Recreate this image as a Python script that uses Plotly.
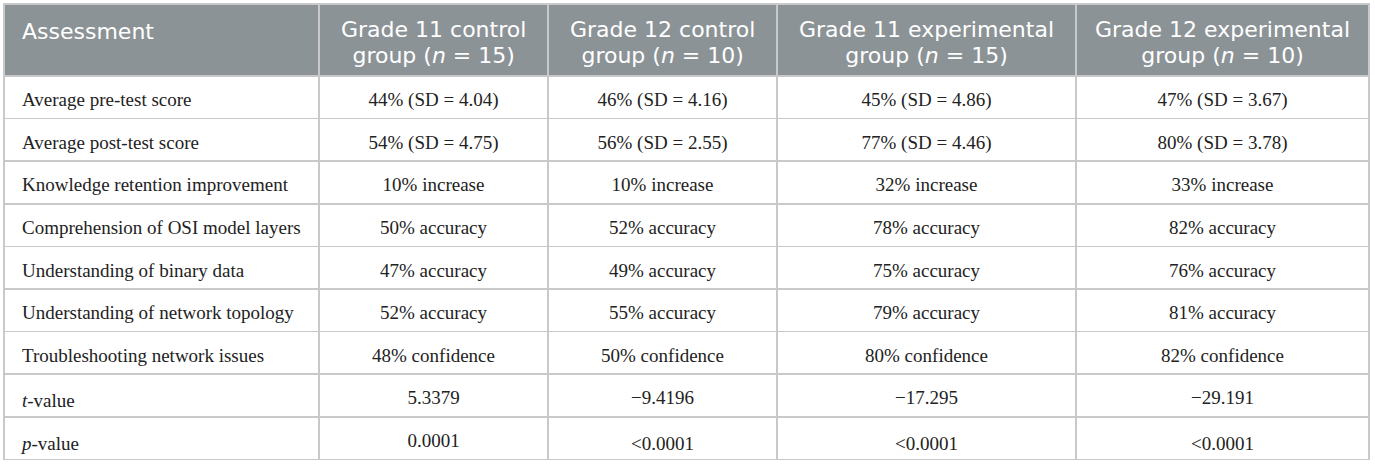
import plotly.graph_objects as go

header_line1 = [
    "Assessment",
    "Grade 11 control",
    "Grade 12 control",
    "Grade 11 experimental",
    "Grade 12 experimental",
]
header_line2 = [
    "",
    "group (<i>n</i> = 15)",
    "group (<i>n</i> = 10)",
    "group (<i>n</i> = 15)",
    "group (<i>n</i> = 10)",
]

assessments = [
    "Average pre-test score",
    "Average post-test score",
    "Knowledge retention improvement",
    "Comprehension of OSI model layers",
    "Understanding of binary data",
    "Understanding of network topology",
    "Troubleshooting network issues",
    "<i>t</i>-value",
    "<i>p</i>-value",
]

grade11_control = [
    "44% (SD = 4.04)", "54% (SD = 4.75)", "10% increase", "50% accuracy",
    "47% accuracy", "52% accuracy", "48% confidence", "5.3379", "0.0001",
]
grade12_control = [
    "46% (SD = 4.16)", "56% (SD = 2.55)", "10% increase", "52% accuracy",
    "49% accuracy", "55% accuracy", "50% confidence", "\u22129.4196", "&lt;0.0001",
]
grade11_experimental = [
    "45% (SD = 4.86)", "77% (SD = 4.46)", "32% increase", "78% accuracy",
    "75% accuracy", "79% accuracy", "80% confidence", "\u221217.295", "&lt;0.0001",
]
grade12_experimental = [
    "47% (SD = 3.67)", "80% (SD = 3.78)", "33% increase", "82% accuracy",
    "76% accuracy", "81% accuracy", "82% confidence", "\u221229.191", "&lt;0.0001",
]

column_widths = [315, 229, 229, 299, 293]

W, H = 1375, 467
ML, MR, MT, MB = 4, 6, 4, 0
plot_h = H - MT - MB
header_h = 72
row_h = 42.6
text_shift = 8
indent = 10

grid = "#c9c9c9"
header_fill = "#8c9396"
n_rows = len(assessments)
n_cols = len(column_widths)

# grid / fill table (no text)
grid_table = go.Table(
    columnwidth=column_widths,
    header=dict(
        values=[""] * n_cols,
        fill_color=header_fill,
        line=dict(color=grid, width=1.5),
        height=header_h,
    ),
    cells=dict(
        values=[[""] * n_rows for _ in range(n_cols)],
        fill_color="white",
        line=dict(color=grid, width=1.5),
        height=row_h,
    ),
)

# text table overlaid, slightly lower so the text sits mid-row
text_table = go.Table(
    domain=dict(x=[0, 1], y=[0, 1 - text_shift / plot_h]),
    columnwidth=[indent, column_widths[0] - indent] + column_widths[1:],
    header=dict(
        values=[""] * (n_cols + 1),
        fill_color="rgba(0,0,0,0)",
        line=dict(color="rgba(0,0,0,0)", width=0),
        height=header_h,
    ),
    cells=dict(
        values=[[""] * n_rows, assessments, grade11_control, grade12_control,
                grade11_experimental, grade12_experimental],
        fill_color="rgba(0,0,0,0)",
        line=dict(color="rgba(0,0,0,0)", width=0),
        font=dict(family="Liberation Serif", size=19, color="#222222"),
        align=["left", "left", "center", "center", "center", "center"],
        height=row_h,
    ),
)

fig = go.Figure([grid_table, text_table])

head_size = 22
span = "<span style='font-size:%dpx'>%s</span>"
total_w = sum(column_widths)
annotations = []
cum = 0
for i, w in enumerate(column_widths):
    if header_line2[i]:
        text = span % (head_size, header_line1[i]) + "<br>" + span % (head_size, header_line2[i])
        x, xanchor, py = (cum + w / 2) / total_w, "center", 43
    else:
        text = span % (head_size, header_line1[i])
        x, xanchor, py = (cum + 17) / total_w, "left", 31
    annotations.append(dict(
        text=text, x=x, xanchor=xanchor, align="center",
        y=1 - (py - MT) / plot_h, yanchor="middle",
        xref="paper", yref="paper", showarrow=False, borderpad=0,
        font=dict(family="DejaVu Sans", size=20, color="white"),
    ))
    cum += w

fig.update_layout(
    width=W, height=H,
    margin=dict(l=ML, r=MR, t=MT, b=MB),
    paper_bgcolor="white",
    annotations=annotations,
)

fig.write_html("out.html", config={"displayModeBar": False},
               post_script="document.body.style.margin='0px';")
